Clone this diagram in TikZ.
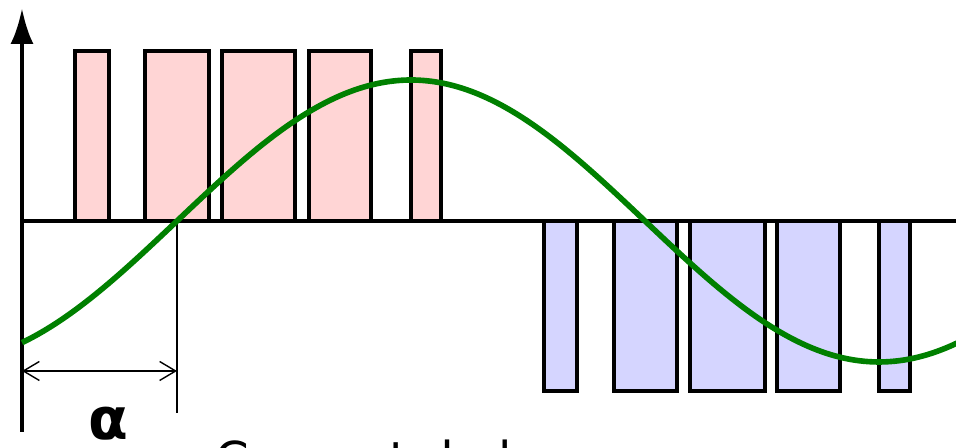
\documentclass[tikz,border=0pt]{standalone}
\usepackage{fontspec}
\setmainfont{DejaVu Sans}
\usetikzlibrary{arrows.meta}
\definecolor{posfill}{RGB}{255,213,213}
\definecolor{negfill}{RGB}{213,213,255}
\definecolor{wavegreen}{RGB}{0,128,0}
\tikzset{
  axisline/.style={line width=1.4pt, draw=black},
  pulsepos/.style={draw=black, fill=posfill, line width=1.1pt},
  pulseneg/.style={draw=black, fill=negfill, line width=1.1pt},
  wave/.style={draw=wavegreen, line width=1.6pt},
  thinline/.style={draw=black, line width=0.4pt},
  dimarrow/.style={thinline, {Straight Barb[length=1.6mm,width=1.9mm]}-{Straight Barb[length=1.6mm,width=1.9mm]}},
}

\begin{document}
\begin{tikzpicture}[x=0.1mm, y=-0.1mm]
  \useasboundingbox (0,0) rectangle (956,448);
  \clip (0,0) rectangle (956,448);

  % named points
  \coordinate (origin) at (22,221);
  \coordinate (ytop)   at (22,8);
  \coordinate (ybot)   at (22,432);
  \coordinate (xend)   at (958,221);
  \coordinate (cross)  at (177,221);
  \coordinate (crossbot) at (177,413);
  \coordinate (alphaL) at (22,371);
  \coordinate (alphaR) at (177,371);

  % pulses
  \foreach \a/\b in {75/109,145/209,222/295,309/371,411/441}
    \draw[pulsepos] (\a,221) rectangle (\b,51);
  \foreach \a/\b in {544/577,614/677,690/765,777/840,879/910}
    \draw[pulseneg] (\a,221) rectangle (\b,391);

  % axes
  \draw[axisline] (origin) -- (xend);
  \draw[axisline, -{Latex[length=3.6mm,width=2.3mm]}] (ybot) -- (ytop);

  % firing angle
  \draw[thinline] (cross) -- (crossbot);
  \draw[dimarrow] (alphaL) -- (alphaR);
  \node (alpha) [anchor=base, inner sep=0, font=\fontsize{16.5}{18}\selectfont\bfseries] at (108,440) {α};

  % sine
  \draw[wave] plot[domain=22:958, samples=120, smooth] (\x, {221-141*sin((\x-177)/468*180)});

  \node (caption) [anchor=base west, inner sep=0, font=\fontsize{13.7}{16}\selectfont] at (215,477) {Courant de la source};
\end{tikzpicture}
\end{document}
